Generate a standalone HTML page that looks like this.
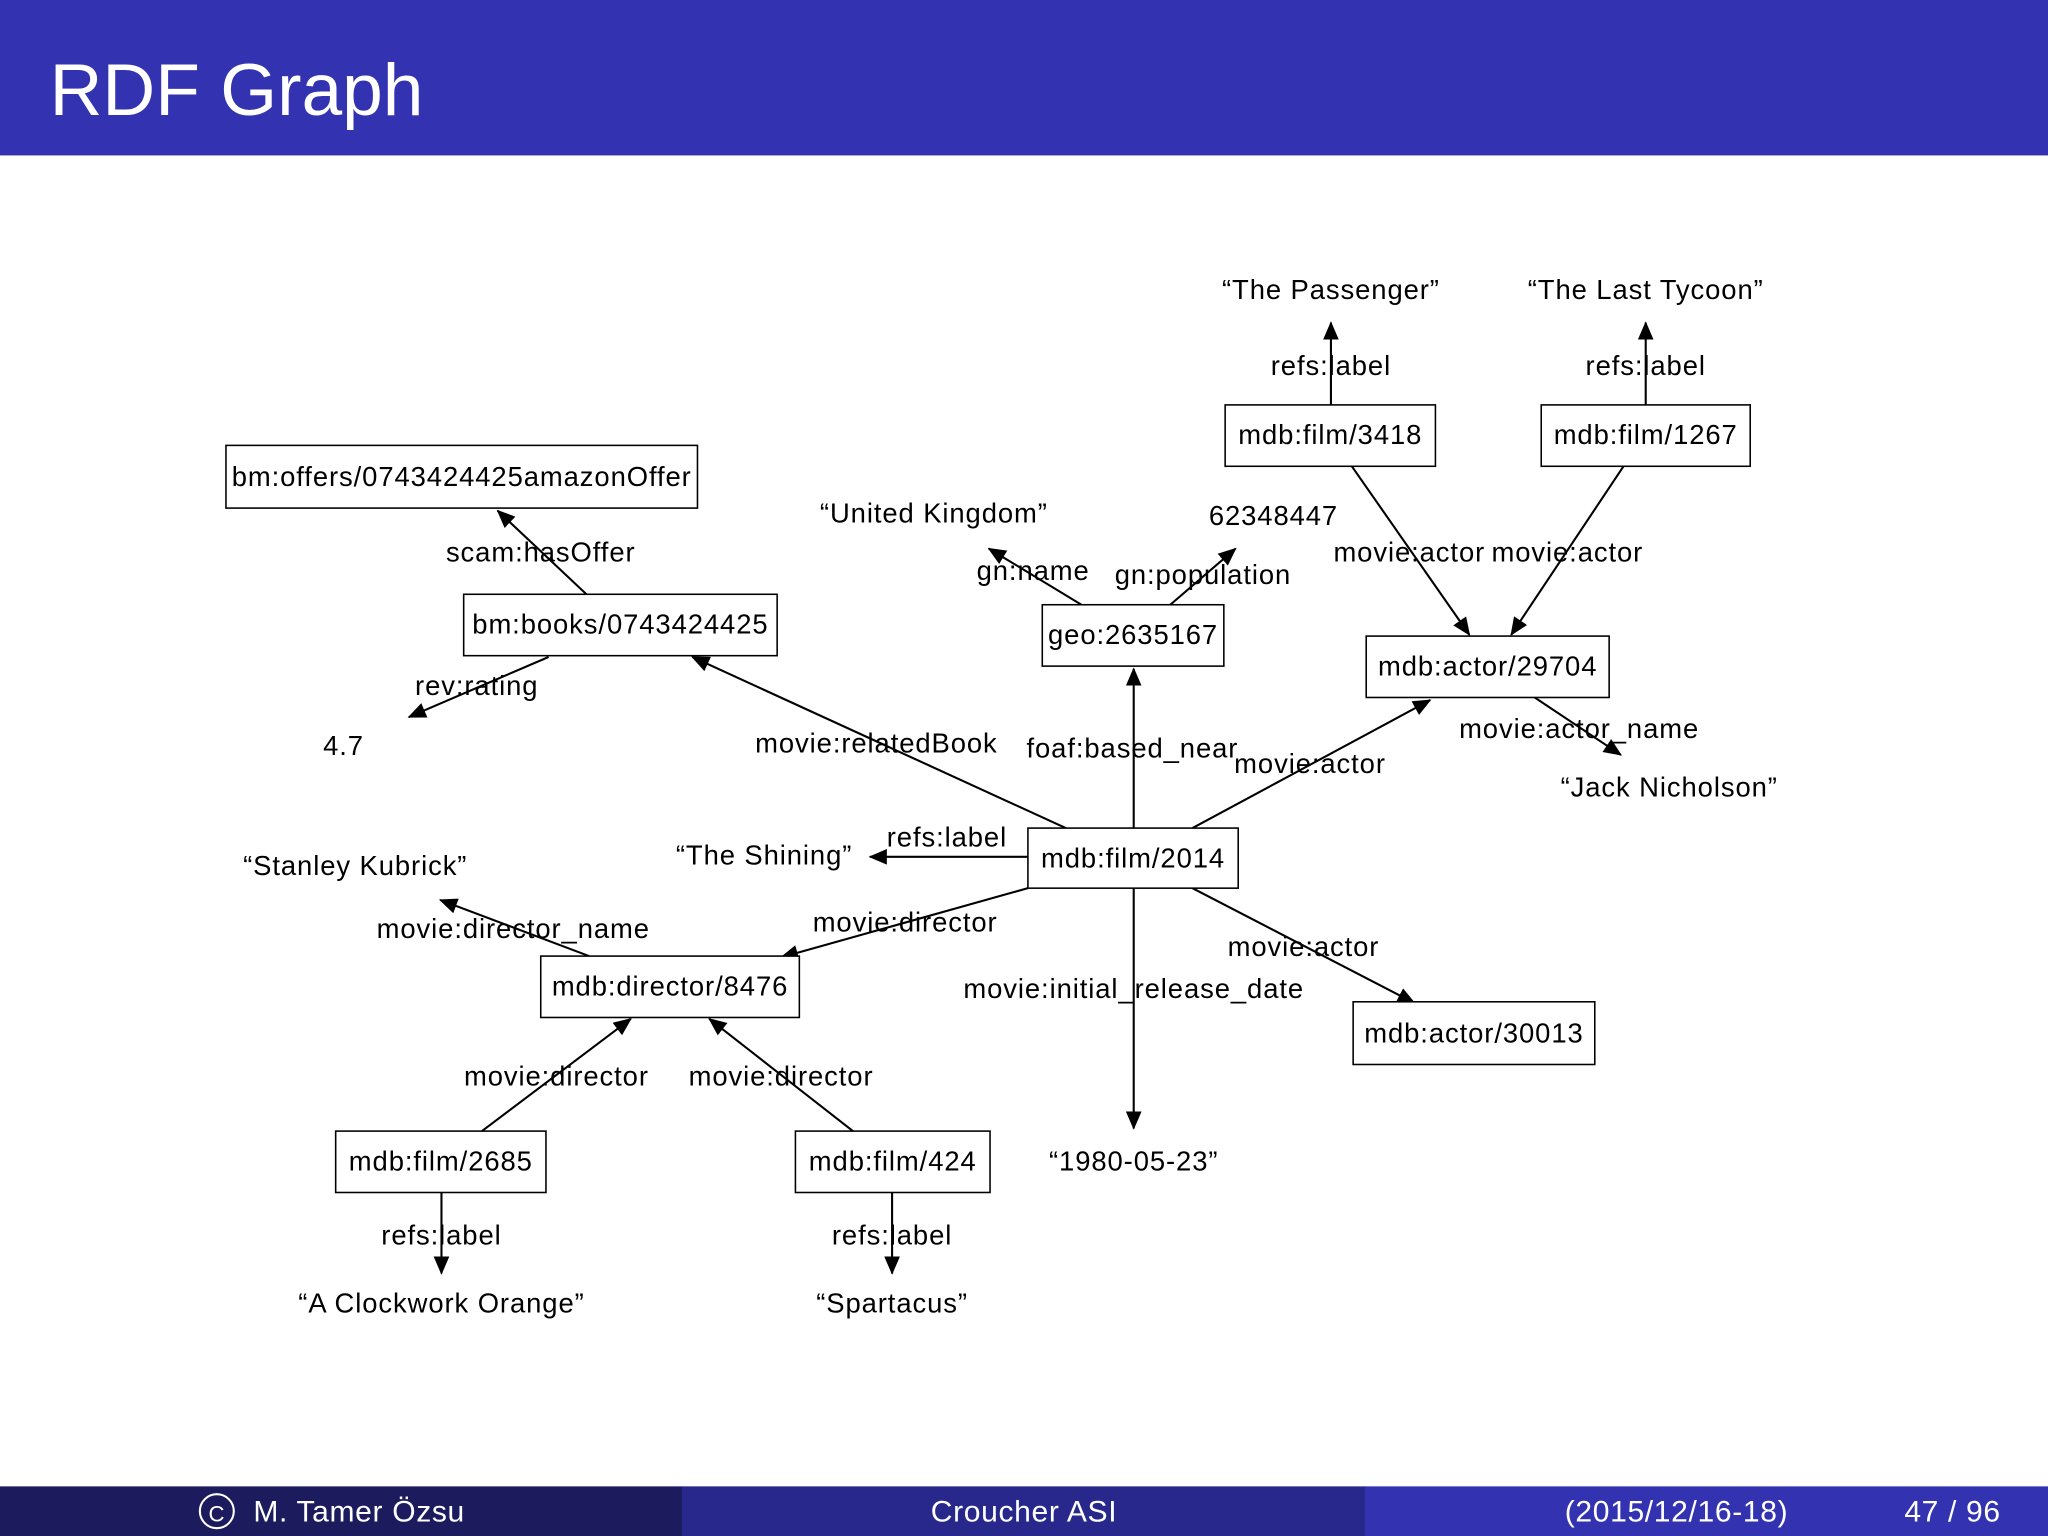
<!DOCTYPE html>
<html><head><meta charset="utf-8"><style>
html,body{margin:0;padding:0;background:#fff}
svg{display:block}
text{font-family:"Liberation Sans","DejaVu Sans",sans-serif}
</style></head><body>
<svg width="2048" height="1536" viewBox="0 0 1568 1176" xmlns="http://www.w3.org/2000/svg">
<defs>
<marker id="a" viewBox="0 0 14 12" refX="13" refY="6" markerWidth="14" markerHeight="12" markerUnits="userSpaceOnUse" orient="auto">
<path d="M0,0 L14,6 L0,12 z" fill="#000"/>
</marker>
</defs>
<rect x="0" y="0" width="1568" height="119" fill="#3333b2"/>
<text x="38" y="88" font-size="56" fill="#fff">RDF Graph</text>

<g stroke="#000" stroke-width="1.6" fill="none" marker-end="url(#a)">
<line x1="1019" y1="310" x2="1019" y2="247"/>
<line x1="1260" y1="310" x2="1260" y2="247"/>
<line x1="449" y1="455" x2="381" y2="391"/>
<line x1="420" y1="503" x2="313" y2="549"/>
<line x1="828" y1="463" x2="757" y2="420"/>
<line x1="896" y1="463" x2="946" y2="420"/>
<line x1="1035" y1="357" x2="1125" y2="486"/>
<line x1="1243" y1="357" x2="1157" y2="486"/>
<line x1="1175" y1="534" x2="1241" y2="578"/>
<line x1="868" y1="634" x2="868" y2="512"/>
<line x1="816" y1="634" x2="530" y2="503"/>
<line x1="913" y1="634" x2="1095" y2="536"/>
<line x1="787" y1="656" x2="666" y2="656"/>
<line x1="787" y1="680" x2="598" y2="733"/>
<line x1="868" y1="680" x2="868" y2="864"/>
<line x1="913" y1="680" x2="1083" y2="768"/>
<line x1="451" y1="732" x2="337" y2="689"/>
<line x1="369" y1="866" x2="483" y2="780"/>
<line x1="653" y1="866" x2="543" y2="780"/>
<line x1="338" y1="913" x2="338" y2="975"/>
<line x1="683" y1="913" x2="683" y2="975"/>
</g>

<g stroke="#000" stroke-width="1.2" fill="#fff">
<rect x="173" y="341" width="361" height="48"/>
<rect x="355" y="455" width="240" height="47"/>
<rect x="798" y="463" width="139" height="47"/>
<rect x="938" y="310" width="161" height="47"/>
<rect x="1180" y="310" width="160" height="47"/>
<rect x="1046" y="487" width="186" height="47"/>
<rect x="787" y="634" width="161" height="46"/>
<rect x="414" y="732" width="198" height="47"/>
<rect x="1036" y="767" width="185" height="48"/>
<rect x="257" y="866" width="161" height="47"/>
<rect x="609" y="866" width="149" height="47"/>
</g>

<g font-size="21" letter-spacing="0.7" fill="#000" text-anchor="middle">
<text x="353.5" y="372">bm:offers/0743424425amazonOffer</text>
<text x="475" y="485">bm:books/0743424425</text>
<text x="867.5" y="493">geo:2635167</text>
<text x="1018.5" y="340">mdb:film/3418</text>
<text x="1260" y="340">mdb:film/1267</text>
<text x="1139" y="517">mdb:actor/29704</text>
<text x="867.5" y="664">mdb:film/2014</text>
<text x="513" y="762">mdb:director/8476</text>
<text x="1128.5" y="798">mdb:actor/30013</text>
<text x="337.5" y="896">mdb:film/2685</text>
<text x="683.5" y="896">mdb:film/424</text>

<text x="1019" y="229">“The Passenger”</text>
<text x="1260" y="229">“The Last Tycoon”</text>
<text x="1019" y="287">refs:label</text>
<text x="1260" y="287">refs:label</text>
<text x="715" y="400">“United Kingdom”</text>
<text x="975" y="402">62348447</text>
<text x="791" y="444">gn:name</text>
<text x="921" y="447">gn:population</text>
<text x="1079" y="430">movie:actor</text>
<text x="1200" y="430">movie:actor</text>
<text x="414" y="430">scam:hasOffer</text>
<text x="365" y="532">rev:rating</text>
<text x="263" y="578">4.7</text>
<text x="671" y="576">movie:relatedBook</text>
<text x="867" y="580">foaf:based_near</text>
<text x="1003" y="592">movie:actor</text>
<text x="1209" y="565">movie:actor_name</text>
<text x="1278" y="610">“Jack Nicholson”</text>
<text x="725" y="648">refs:label</text>
<text x="585" y="662">“The Shining”</text>
<text x="272" y="670">“Stanley Kubrick”</text>
<text x="393" y="718">movie:director_name</text>
<text x="693" y="713">movie:director</text>
<text x="998" y="732">movie:actor</text>
<text x="868" y="764">movie:initial_release_date</text>
<text x="426" y="831">movie:director</text>
<text x="598" y="831">movie:director</text>
<text x="868" y="896">“1980-05-23”</text>
<text x="338" y="953">refs:label</text>
<text x="683" y="953">refs:label</text>
<text x="338" y="1005">“A Clockwork Orange”</text>
<text x="683" y="1005">“Spartacus”</text>
</g>

<rect x="0" y="1138" width="523" height="38" fill="#1b1b5e"/>
<rect x="522" y="1138" width="524" height="38" fill="#28288c"/>
<rect x="1045" y="1138" width="523" height="38" fill="#3333b2"/>
<g font-size="23" fill="#fff" letter-spacing="0.5">
<circle cx="166" cy="1157" r="13" fill="none" stroke="#fff" stroke-width="1.6"/>
<text x="166" y="1165" text-anchor="middle" font-size="17">C</text>
<text x="194" y="1165">M. Tamer Özsu</text>
<text x="784" y="1165" text-anchor="middle">Croucher ASI</text>
<text x="1198" y="1165">(2015/12/16-18)</text>
<text x="1458" y="1165">47 / 96</text>
</g>
</svg>
</body></html>
